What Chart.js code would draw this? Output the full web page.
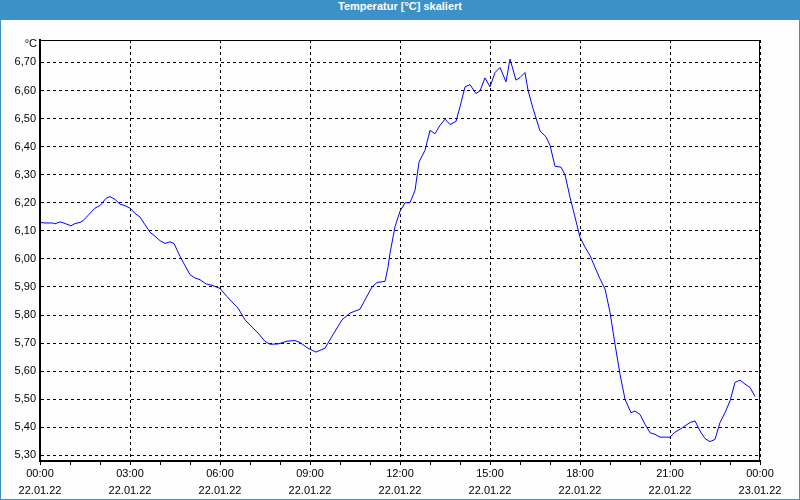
<!DOCTYPE html>
<html>
<head>
    <meta charset="UTF-8">
    <title>Temperatur [°C] skaliert</title>
    <script src="https://cdn.jsdelivr.net/npm/chart.js"></script>
    <style>
       body {
           margin: 0;
           background: #fcfdfc;
       }
       .titlebar {
           width: 800px;
           height: 20px;
           line-height: 20px;
           background: #3c91c8;
           color: #fff;
           font: bold 11px 'Liberation Sans', sans-serif;
           text-align: center;
       }
       .frame {
           width: 798px;
           height: 479px;
           border: 1px solid #3c91c8;
           border-top: none;
           background: #fcfdfc;
       }
   </style>
</head>
<body>
   <div class="titlebar">Temperatur [°C] skaliert</div>
   <div class="frame">
       <canvas id="tempChart" width="798" height="479"></canvas>
   </div>

    <script>
    // minutes since 22.01.22 00:00
    const minutes = [0, 10, 26, 30, 40, 46, 62, 70, 80, 86, 96, 110, 120, 132, 140, 150, 160, 170, 180, 190,
        200, 210, 220, 230, 240, 250, 260, 268, 280, 290, 300, 310, 320, 332, 344, 360, 374, 386, 396, 410,
        424, 436, 450, 460, 476, 494, 510, 520, 536, 552, 570, 586, 604, 620, 640, 664, 674, 690, 696, 700,
        710, 720, 730, 740, 750, 758, 770, 780, 790, 800, 810, 820, 832, 840, 850, 860, 872, 880, 890, 900,
        910, 920, 932, 940, 952, 960, 970, 976, 986, 1000, 1012, 1020, 1030, 1042, 1050, 1060, 1070, 1080, 1090, 1100,
        1110, 1120, 1130, 1140, 1150, 1160, 1170, 1182, 1190, 1200, 1210, 1220, 1230, 1240, 1260, 1270, 1280, 1290, 1300, 1310,
        1320, 1330, 1340, 1350, 1360, 1370, 1380, 1390, 1400, 1410, 1420, 1430];
    const temps = [6.13, 6.128, 6.128, 6.125, 6.132, 6.129, 6.118, 6.126, 6.13, 6.136, 6.155, 6.181, 6.19, 6.216, 6.222, 6.212, 6.195, 6.19, 6.181, 6.162,
        6.149, 6.122, 6.095, 6.081, 6.065, 6.055, 6.061, 6.055, 6.009, 5.976, 5.944, 5.932, 5.926, 5.911, 5.906, 5.895, 5.866, 5.843, 5.825, 5.783,
        5.757, 5.736, 5.706, 5.696, 5.697, 5.707, 5.709, 5.702, 5.682, 5.668, 5.682, 5.73, 5.783, 5.807, 5.821, 5.90, 5.916, 5.92, 5.97, 6.02,
        6.115, 6.17, 6.20, 6.20, 6.244, 6.345, 6.387, 6.458, 6.446, 6.476, 6.498, 6.479, 6.49, 6.542, 6.613, 6.621, 6.589, 6.599, 6.645, 6.613,
        6.664, 6.682, 6.631, 6.712, 6.637, 6.646, 6.664, 6.601, 6.536, 6.456, 6.435, 6.405, 6.33, 6.327, 6.30, 6.22, 6.149, 6.077, 6.042, 6.012,
        5.97, 5.929, 5.893, 5.81, 5.696, 5.589, 5.50, 5.452, 5.458, 5.446, 5.411, 5.381, 5.375, 5.365, 5.365, 5.383, 5.393, 5.405, 5.417, 5.423,
        5.387, 5.36, 5.349, 5.357, 5.417, 5.452, 5.494, 5.56, 5.568, 5.554, 5.542, 5.51];

    const timeLabels = ['00:00', '03:00', '06:00', '09:00', '12:00', '15:00', '18:00', '21:00', '00:00'];
    const dateLabels = ['22.01.22', '22.01.22', '22.01.22', '22.01.22', '22.01.22', '22.01.22', '22.01.22', '22.01.22', '23.01.22'];
    const yTicks = [5.3, 5.4, 5.5, 5.6, 5.7, 5.8, 5.9, 6.0, 6.1, 6.2, 6.3, 6.4, 6.5, 6.6, 6.7];

    const points = minutes.map((m, i) => ({ x: m, y: temps[i] }));
    const font = { family: "'Liberation Sans', sans-serif", size: 11 };

    // "°C" unit above the y axis
    const unitLabel = {
        id: 'unitLabel',
        afterDraw(chart) {
            const ctx = chart.ctx;
            ctx.save();
            ctx.font = "11px 'Liberation Sans', sans-serif";
            ctx.fillStyle = '#000';
            ctx.textAlign = 'right';
            ctx.textBaseline = 'middle';
            ctx.fillText('°C', chart.chartArea.left - 3, chart.chartArea.top + 4);
            ctx.restore();
        }
    };

    new Chart('tempChart', {
        type: 'line',
        data: {
            datasets: [{
                data: points,
                borderColor: '#0000ff',
                borderWidth: 1,
                pointRadius: 0,
                tension: 0
            }]
        },
        options: {
            responsive: false,
            animation: false,
            layout: { padding: { top: 20, right: 39, bottom: 0, left: 0 } },
            plugins: { legend: { display: false }, tooltip: { enabled: false } },
            scales: {
                x: {
                    type: 'linear',
                    min: 0,
                    max: 1440,
                    afterFit: s => { s.height = 38; },
                    afterBuildTicks: s => {
                        s.ticks = [];
                        for (let m = 0; m <= 1440; m += 60) s.ticks.push({ value: m });
                    },
                    ticks: {
                        autoSkip: false,
                        maxRotation: 0,
                        padding: 0,
                        color: '#000',
                        font: { ...font, lineHeight: 1.55 },
                        callback: v => v % 180 === 0 ? [timeLabels[v / 180], dateLabels[v / 180]] : ''
                    },
                    grid: {
                        color: c => (c.tick && c.tick.value % 180 === 0) ? '#000' : 'rgba(0,0,0,0)',
                        tickColor: '#000',
                        tickLength: 4,
                        lineWidth: 1
                    },
                    border: { display: true, color: '#000', width: 2, dash: [3, 3] }
                },
                y: {
                    min: 5.28,
                    max: 6.78,
                    afterFit: s => { s.width = 39; },
                    afterBuildTicks: s => {
                        s.ticks = yTicks.map(v => ({ value: v }));
                    },
                    ticks: {
                        padding: 4,
                        color: '#000',
                        font: font,
                        callback: v => v.toFixed(2).replace('.', ',')
                    },
                    grid: { color: '#000', drawTicks: false, lineWidth: 1 },
                    border: { display: true, color: '#000', width: 2, dash: [3, 3] }
                }
            }
        },
        plugins: [unitLabel, {
            id: 'frameBox',
            afterDraw(chart) {
                const { ctx, chartArea: a } = chart;
                ctx.save();
                ctx.strokeStyle = '#000';
                ctx.lineWidth = 1;
                ctx.strokeRect(a.left + 0.5, a.top + 0.5, a.right - a.left - 1, a.bottom - a.top);
                ctx.restore();
            }
        }]
    });
    </script>
</body>
</html>
